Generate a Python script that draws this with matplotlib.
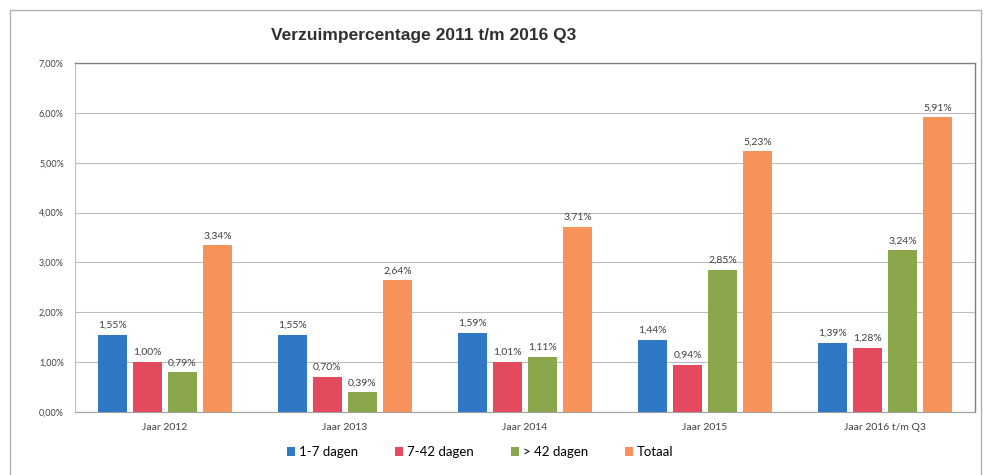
import matplotlib
matplotlib.use('Agg')
import matplotlib.pyplot as plt
from matplotlib.patches import Rectangle
import numpy as np

categories = ['Jaar 2012', 'Jaar 2013', 'Jaar 2014', 'Jaar 2015', 'Jaar 2016 t/m Q3']
series = ['1-7 dagen', '7-42 dagen', '> 42 dagen', 'Totaal']
kort = [1.55, 1.55, 1.59, 1.44, 1.39]
middel = [1.00, 0.70, 1.01, 0.94, 1.28]
lang = [0.79, 0.39, 1.11, 2.85, 3.24]
totaal = [3.34, 2.64, 3.71, 5.23, 5.91]
yticks = [0, 1, 2, 3, 4, 5, 6, 7]

colors = ['#2f78c6', '#e44a5d', '#8aa84b', '#f7925a']
values = [kort, middel, lang, totaal]

fig = plt.figure(figsize=(9.86, 4.75), dpi=100)
ax = fig.add_axes([0.076, 0.133, 0.913, 0.734])

# outer chart frame
fig.patches.append(Rectangle((0.010, -0.01), 0.985, 0.99, transform=fig.transFigure,
                             fill=False, edgecolor='#b0b0b0', linewidth=1.0))

x = np.arange(len(categories))
width = 0.16
step = 0.195
for i, (name, vals) in enumerate(zip(series, values)):
    pos = x + (i - 1.5) * step
    ax.bar(pos, vals, width, color=colors[i], label=name, zorder=3)
    for p, v in zip(pos, vals):
        ax.text(p, v + 0.1, ('%.2f%%' % v).replace('.', ','), ha='center', va='bottom',
                fontsize=7.5, color='#404040', family='Lato')

ax.set_xlim(-0.5, len(categories) - 0.5)
ax.set_ylim(0, 7)
ax.set_yticks(yticks)
ax.set_yticklabels([('%.2f%%' % t).replace('.', ',') for t in yticks], fontsize=6.5,
                   color='#404040', family='Lato')
ax.set_xticks(x)
ax.set_xticklabels(categories, fontsize=7.5, color='#404040', family='Lato')
ax.tick_params(axis='both', length=0, pad=8)
ax.grid(axis='y', color='#bdbdbd', linewidth=0.8, zorder=0)
for s in ['top', 'right']:
    ax.spines[s].set_color('#808080')
    ax.spines[s].set_linewidth(1.0)
ax.spines['left'].set_color('#c0c0c0')
ax.spines['bottom'].set_color('#a0a0a0')

fig.text(0.430, 0.925, 'Verzuimpercentage 2011 t/m 2016 Q3', ha='center', va='center',
         fontsize=12.5, fontweight='bold', color='#303030', family='Liberation Sans')

fig.legend(loc='center', bbox_to_anchor=(0.487, 0.048), ncol=4, frameon=False,
           handlelength=0.6, handleheight=0.6, columnspacing=2.8,
           handletextpad=0.3, prop={'family': 'Lato', 'size': 9.5})

fig.savefig('out.png', dpi=100)
